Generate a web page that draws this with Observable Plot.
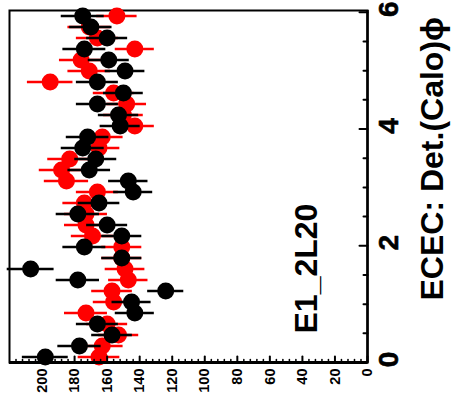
<!DOCTYPE html>
<html><head><meta charset="utf-8">
<script src="https://cdn.jsdelivr.net/npm/d3@7"></script>
<script src="https://cdn.jsdelivr.net/npm/@observablehq/plot@0.6"></script>
<style>body{margin:0;background:#fff} svg{display:block}</style>
</head><body><div id="chart"></div>
<script>
// phi bin centres (x quantity of the original histogram, drawn along the vertical)
const phiBins = [0.094,0.283,0.471,0.660,0.848,1.036,1.225,1.413,1.602,1.790,1.979,2.167,2.355,2.544,2.732,2.921,3.109,3.298,3.486,3.674,3.863,4.051,4.240,4.428,4.617,4.805,4.993,5.182,5.370,5.559,5.747,5.936];
const blackCounts = [198,177,157,166,143,145,124,178,207,151,174,151,160,178,165,144,147,171,167,175,172,152,153,166,150,166,149,159,174,160,170,175];
const blackErrors = [14.1,13.3,12.5,12.9,12.0,12.0,11.1,13.3,14.4,12.3,13.2,12.3,12.6,13.3,12.8,12.0,12.1,13.1,12.9,13.2,13.1,12.3,12.4,12.9,12.2,12.9,12.2,12.6,13.2,12.6,13.0,13.2];
const redCounts = [165,163,153,160,173,156,157,147,149,151,151,169,173,173,174,166,185,188,183,165,163,143,150,148,156,195,171,176,143,166,171,154];
const redErrors = [12.8,12.8,12.4,12.6,13.2,12.5,12.5,12.1,12.2,12.3,12.3,13.0,13.2,13.2,13.2,12.9,13.6,13.7,13.5,12.8,12.8,12.0,12.2,12.2,12.5,14.0,13.1,13.3,12.0,12.9,13.1,12.4];
const countMajorTicks = [0,20,40,60,80,100,120,140,160,180,200];
const phiMajorTicks = [0,2,4,6];
const titleText = "ECEC: Det.(Calo)ϕ";
const labelText = "E1_2L20";

const countMinorTicks = d3.range(4, 220, 4).filter(v => v % 20 !== 0);
const phiMinorTicks = d3.range(0.5, 6, 0.5).filter(v => v % 2 !== 0);

const black = phiBins.map((phi, i) => ({phi, count: blackCounts[i], err: blackErrors[i]}));
const red = phiBins.map((phi, i) => ({phi, count: redCounts[i], err: redErrors[i]}));

const font = "'Liberation Sans', Arial, Helvetica, sans-serif";
const tickShape = {draw(ctx, l) { ctx.moveTo(0, 0); ctx.lineTo(0, -l); }};

const chart = Plot.plot({
  width: 453, height: 402,
  marginLeft: 9, marginRight: 86, marginTop: 10, marginBottom: 40,
  style: {fontFamily: font, background: "white", overflow: "visible"},
  x: {domain: [0, 220], reverse: true, axis: null},
  y: {domain: [0, 6.03], axis: null},
  marks: [
    Plot.frame({stroke: "black", strokeWidth: 2}),
    Plot.ruleY(red, {y: "phi", x1: d => d.count - d.err, x2: d => d.count + d.err, stroke: "#ff0000", strokeWidth: 2.5}),
    Plot.dot(red, {x: "count", y: "phi", r: 8.5, fill: "#ff0000"}),
    Plot.ruleY(black, {y: "phi", x1: d => d.count - d.err, x2: d => d.count + d.err, stroke: "black", strokeWidth: 2.5}),
    Plot.dot(black, {x: "count", y: "phi", r: 8.5, fill: "black"}),
    Plot.ruleY([0], {stroke: "black", strokeWidth: 3}),
    Plot.ruleX([0], {stroke: "black", strokeWidth: 2.5}),
    Plot.vector(countMinorTicks, {x: d => d, frameAnchor: "bottom", length: 3, anchor: "start", shape: tickShape, stroke: "black", strokeWidth: 1.5}),
    Plot.vector(countMajorTicks, {x: d => d, frameAnchor: "bottom", length: 6, anchor: "start", shape: tickShape, stroke: "black", strokeWidth: 2}),
    Plot.vector(phiMinorTicks, {y: d => d, frameAnchor: "right", length: 4, rotate: -90, anchor: "start", shape: tickShape, stroke: "black", strokeWidth: 2}),
    Plot.vector(phiMajorTicks, {y: d => d, frameAnchor: "right", length: 8, rotate: -90, anchor: "start", shape: tickShape, stroke: "black", strokeWidth: 2}),
    Plot.text(countMajorTicks, {x: d => d, text: d => String(d), frameAnchor: "bottom", rotate: -90, textAnchor: "end", lineAnchor: "middle", dy: 6, fontSize: 14.5, fontWeight: "bold", fill: "black"}),
    Plot.text(phiMajorTicks.map(String), {y: d => +d, text: d => d, frameAnchor: "right", rotate: -90, textAnchor: "middle", lineAnchor: "middle", dx: 22, dy: -3, fontSize: "28px", fontWeight: 700, fill: "black", stroke: "black", strokeWidth: 0.6}),
    Plot.text([titleText], {text: d => d, frameAnchor: "bottom-right", rotate: -90, textAnchor: "start", lineAnchor: "bottom", dx: 75, dy: -62, fontSize: 32, fontWeight: "bold", fill: "black"}),
    Plot.text([labelText], {text: d => d, frameAnchor: "bottom-right", rotate: -90, textAnchor: "start", lineAnchor: "bottom", dx: -51, dy: -29, fontSize: 32, fontWeight: "bold", fill: "black"})
  ]
});
document.getElementById("chart").appendChild(chart);
</script>
</body></html>
